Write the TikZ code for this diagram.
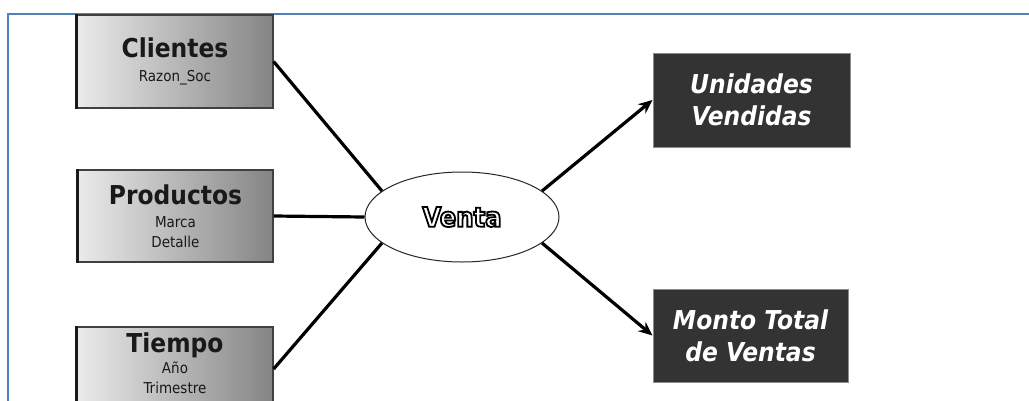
\documentclass[tikz,border=0pt]{standalone}
\usepackage{fontspec}
\setmainfont{DejaVu Sans Condensed}
\usetikzlibrary{shapes.geometric,arrows.meta}
\definecolor{frameblue}{HTML}{4F81BD}
\definecolor{darkbox}{HTML}{333333}
\newcommand\outlinetext[1]{{\color{white}\special{pdf:literal direct 2 Tr 1.8 w 0 0 0 RG}#1\special{pdf:literal direct 0 Tr 1 w}}}
\newcommand\subtxt{\mdseries\fontsize{15}{19}\selectfont}
\tikzset{
  dimbox/.style={rectangle, draw=black!75, line width=1.2pt, left color=black!8, right color=black!48,
    inner sep=0pt, align=center, text=black!90, font=\bfseries\fontsize{26}{26}\selectfont},
  measure/.style={rectangle, fill=darkbox, draw=black!45, line width=1pt, text=white,
    font=\bfseries\itshape\fontsize{26}{32}\selectfont, align=center, inner sep=0pt},
  factnode/.style={ellipse, draw=black!85, line width=1pt, fill=white, inner sep=0pt,
    minimum width=194pt, minimum height=90pt, font=\bfseries\fontsize{27}{27}\selectfont},
  conn/.style={line width=3.2pt, black},
  arr/.style={conn, -{Stealth[length=14pt,width=12pt]}},
  frame/.style={draw=frameblue, line width=2pt},
  thickedge/.style={line width=3pt, black!90}
}
\begin{document}
\begin{tikzpicture}[x=1pt,y=-1pt]
\useasboundingbox (0,0) rectangle (1029,400);
\fill[white] (0,0) rectangle (1029,400);
\draw[frame] (8,402) -- (8,14) -- (1031,14);

\node[dimbox, minimum width=196pt, minimum height=93pt] (cli) at (175,61.5)
  {Clientes\\[-2pt]{\subtxt Razon\_Soc}};
\node[dimbox, minimum width=195pt, minimum height=92pt] (pro) at (175.5,216)
  {Productos\\[-3pt]{\subtxt Marca}\\[-6pt]{\subtxt Detalle}};
\node[dimbox, minimum width=196pt, minimum height=84pt] (tie) at (175,369)
  {Tiempo\\[-5pt]{\subtxt Año}\\[-6pt]{\subtxt Trimestre}\\[-15pt]\mbox{}};
\draw[thickedge] (cli.north west) -- (cli.south west);
\draw[thickedge] (pro.north west) -- (pro.south west);
\draw[thickedge] (tie.north west) -- (tie.south west);

\node[factnode] (ven) at (462,217) {\outlinetext{Venta}};

\node[measure, minimum width=197pt, minimum height=94pt] (uni) at (751.5,100)
  {Unidades\\Vendidas};
\node[measure, minimum width=195pt, minimum height=93pt] (mon) at (750.5,335.5)
  {Monto Total\\de Ventas};

\draw[conn] (cli.east) -- (ven.162);
\draw[conn] (pro.east) -- (ven.west);
\draw[conn] (tie.east) -- (ven.198);
\draw[arr] (ven.18) -- (uni.west);
\draw[arr] (ven.-18) -- (mon.west);
\end{tikzpicture}
\end{document}
